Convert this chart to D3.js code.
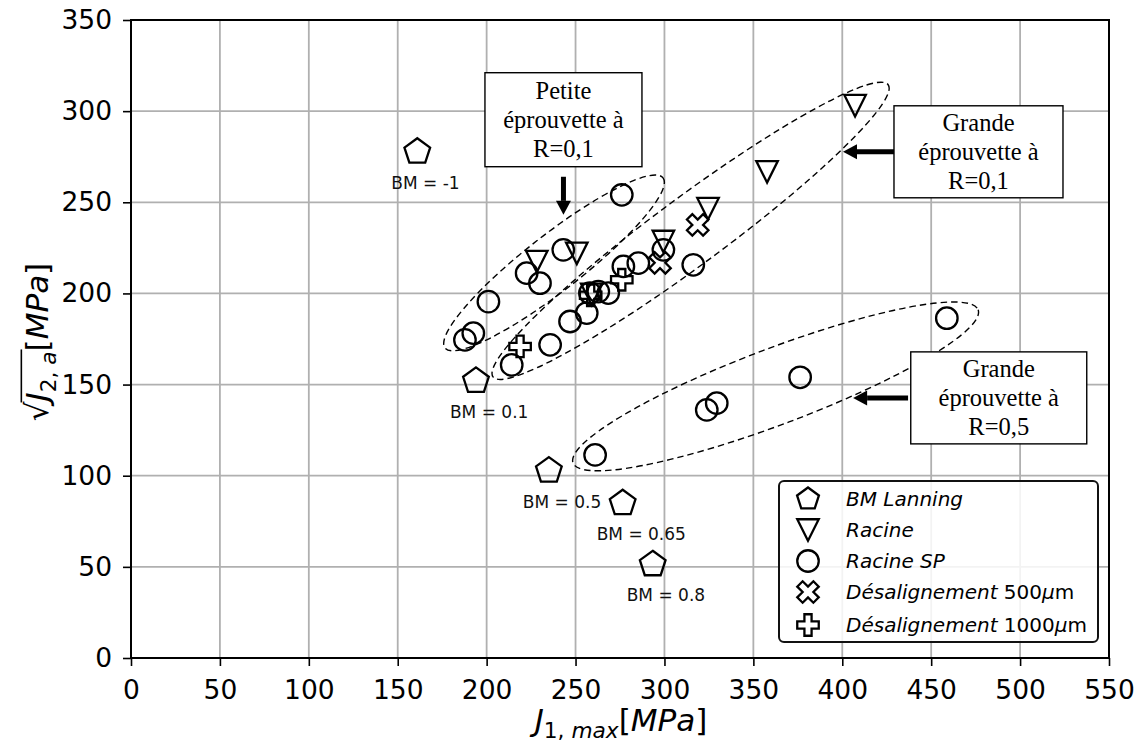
<!DOCTYPE html>
<html><head><meta charset="utf-8">
<script src="https://cdn.jsdelivr.net/npm/d3@7"></script>
<style>body{margin:0;background:#fff;} svg{display:block;}</style>
</head><body>
<svg id="c" width="1143" height="744"></svg>
<script>
// ---------- data ----------
const xTicks = [0,50,100,150,200,250,300,350,400,450,500,550];
const yTicks = [0,50,100,150,200,250,300,350];

const bmX = [161, 194, 235, 276.5, 293.4];
const bmY = [277.7, 152, 102.8, 84.9, 51.4];
const bmLabels = ["BM = -1","BM = 0.1","BM = 0.5","BM = 0.65","BM = 0.8"];

const racineX = [228.2, 250.7, 259.1, 299.4, 324.5, 357.7, 407.2];
const racineY = [217.5, 222.0, 199.5, 228.5, 246.5, 266.7, 303.0];

const racineSPX = [276, 243.1, 222.5, 230, 201, 187.8, 192.5, 214.1, 235.7, 246.9, 256.3, 258.1, 262.8, 268.4, 276.9, 285.3, 299.4, 316.2, 261, 323.8, 329.4, 376.3, 458.8];
const racineSPY = [254.1, 223.9, 211.1, 205.6, 195.5, 174.5, 178.2, 160.8, 171.8, 184.6, 189.2, 200.2, 201, 200.2, 214.8, 216.6, 223.9, 215.7, 111.4, 136.1, 139.8, 154, 186.4];

const des500X = [318.7, 297.5];
const des500Y = [237.6, 216.8];

const des1000X = [218.8, 276, 258.5];
const des1000Y = [170.9, 207.5, 199];

const legendLabels = ["BM Lanning","Racine","Racine SP","Désalignement 500μm","Désalignement 1000μm"];

// ellipse groups: endpoints of major axis (data coords)
const ellipseX1 = [176.6, 203.6, 248.6];
const ellipseY1 = [170.1, 154.2, 107.0];
const ellipseX2 = [299.2, 425.8, 476.4];
const ellipseY2 = [263.4, 314.5, 191.0];

// annotation boxes
const boxLines = [["Petite","éprouvette à","R=0,1"],["Grande","éprouvette à","R=0,1"],["Grande","éprouvette à","R=0,5"]];
const boxCX = [243.2, 476.6, 488.0];
const boxCY = [295.3, 277.7, 142.7];
const arrowFromX = [243.2, 429.1, 437.0];
const arrowFromY = [264.0, 277.7, 142.7];
const arrowToX = [243.2, 400.4, 406.1];
const arrowToY = [243.1, 277.7, 142.7];

// ---------- setup ----------
const svg = d3.select("#c");
const P = {l:131, r:1109, t:20, b:658};
const x = d3.scaleLinear().domain([0,550]).range([P.l,P.r]);
const y = d3.scaleLinear().domain([0,350]).range([P.b,P.t]);
const SANS = "DejaVu Sans, sans-serif";
const SERIF = "Liberation Serif, Times New Roman, serif";

// grid
const g = svg.append("g");
g.selectAll(".gx").data(xTicks).join("line")
  .attr("x1",d=>x(d)).attr("x2",d=>x(d)).attr("y1",P.t).attr("y2",P.b)
  .attr("stroke","#b0b0b0").attr("stroke-width",1.8);
g.selectAll(".gy").data(yTicks).join("line")
  .attr("y1",d=>y(d)).attr("y2",d=>y(d)).attr("x1",P.l).attr("x2",P.r)
  .attr("stroke","#b0b0b0").attr("stroke-width",1.8);

// axes
const ax = svg.append("g").attr("transform",`translate(0,${P.b})`)
  .call(d3.axisBottom(x).tickValues(xTicks).tickSize(8).tickPadding(14).tickFormat(d3.format("d")));
const ay = svg.append("g").attr("transform",`translate(${P.l},0)`)
  .call(d3.axisLeft(y).tickValues(yTicks).tickSize(8).tickPadding(11).tickFormat(d3.format("d")));
[ax,ay].forEach(a=>{
  a.select(".domain").remove();
  a.selectAll("line").attr("stroke","#000").attr("stroke-width",1.6);
  a.selectAll("text").attr("font-family",SANS).attr("font-size",26.5).attr("fill","#000");
});

// ellipses
const ell = svg.append("g");
ellipseX1.forEach((_,i)=>{
  const ax1=x(ellipseX1[i]), ay1=y(ellipseY1[i]), ax2=x(ellipseX2[i]), ay2=y(ellipseY2[i]);
  const cx=(ax1+ax2)/2, cy=(ay1+ay2)/2;
  const a=Math.hypot(ax2-ax1, ay2-ay1)/2;
  const ang=Math.atan2(ay2-ay1, ax2-ax1)*180/Math.PI;
  const b=[28,34,38][i];
  ell.append("ellipse").attr("cx",0).attr("cy",0).attr("rx",a).attr("ry",b)
    .attr("transform",`translate(${cx},${cy}) rotate(${ang})`)
    .attr("fill","none").attr("stroke","#000").attr("stroke-width",1.4)
    .attr("stroke-dasharray","6.5,4");
});

// marker paths
function pentagon(R){
  const pts=d3.range(5).map(k=>{const t=-Math.PI/2+k*2*Math.PI/5;return [R*Math.cos(t),R*Math.sin(t)];});
  return "M"+pts.map(p=>p.join(",")).join("L")+"Z";
}
function triDown(h){ return `M0,${h}L${-h},${-h}L${h},${-h}Z`; }
function circle(r){ return `M${r},0A${r},${r} 0 1,1 ${-r},0A${r},${r} 0 1,1 ${r},0Z`; }
function plus(e){
  const a=e/3;
  const v=[[-a,-e],[a,-e],[a,-a],[e,-a],[e,a],[a,a],[a,e],[-a,e],[-a,a],[-e,a],[-e,-a],[-a,-a]];
  return "M"+v.map(p=>p.join(",")).join("L")+"Z";
}
function xshape(e){
  const a=e/3, c=Math.SQRT1_2;
  const v=[[-a,-e],[a,-e],[a,-a],[e,-a],[e,a],[a,a],[a,e],[-a,e],[-a,a],[-e,a],[-e,-a],[-a,-a]]
    .map(([px,py])=>[(px-py)*c,(px+py)*c]);
  return "M"+v.map(p=>p.join(",")).join("L")+"Z";
}
const S = 21.5;
const markerDefs = [
  {path:pentagon(13.5), legendPath:pentagon(11.5), xs:bmX, ys:bmY},
  {path:triDown(S/2), legendPath:triDown(S/2), xs:racineX, ys:racineY},
  {path:circle(S/2), legendPath:circle(S/2), xs:racineSPX, ys:racineSPY},
  {path:xshape(S*0.53), legendPath:xshape(S*0.53), xs:des500X, ys:des500Y},
  {path:plus(S/2), legendPath:plus(S/2), xs:des1000X, ys:des1000Y}
];
const mk = svg.append("g");
markerDefs.forEach(m=>{
  mk.append("g").selectAll("path").data(m.xs.map((v,i)=>[v,m.ys[i]])).join("path")
    .attr("d",m.path).attr("transform",d=>`translate(${x(d[0])},${y(d[1])})`)
    .attr("fill","none").attr("stroke","#000").attr("stroke-width",2.3).attr("stroke-linejoin","miter");
});

// BM labels
svg.append("g").selectAll("text").data(bmLabels).join("text")
  .attr("x",(d,i)=>x(bmX[i])-26).attr("y",(d,i)=>y(bmY[i])+37)
  .attr("font-family",SANS).attr("font-size",17).attr("fill","#111").text(d=>d);

// spines
svg.append("rect").attr("x",P.l).attr("y",P.t).attr("width",P.r-P.l).attr("height",P.b-P.t)
  .attr("fill","none").attr("stroke","#000").attr("stroke-width",2);

// annotation boxes & arrows
const bw=[157,169,176], bh=[94,92,92];
const ann = svg.append("g");
boxLines.forEach((lines,i)=>{
  const cx=x(boxCX[i]), cy=y(boxCY[i]);
  ann.append("rect").attr("x",cx-bw[i]/2).attr("y",cy-bh[i]/2).attr("width",bw[i]).attr("height",bh[i])
    .attr("fill","#fff").attr("stroke","#000").attr("stroke-width",1.4);
  lines.forEach((t,k)=>{
    ann.append("text").attr("x",cx).attr("y",cy+(k-1)*29+8).attr("text-anchor","middle")
      .attr("font-family",SERIF).attr("font-size",24.5).attr("fill","#000").text(t);
  });
  const x1=x(arrowFromX[i]), y1=y(arrowFromY[i]), x2=x(arrowToX[i]), y2=y(arrowToY[i]);
  const ang=Math.atan2(y2-y1,x2-x1), hl=14, hw=7.5;
  const bx=x2-hl*Math.cos(ang), by=y2-hl*Math.sin(ang);
  ann.append("line").attr("x1",x1).attr("y1",y1).attr("x2",bx).attr("y2",by)
    .attr("stroke","#000").attr("stroke-width",5);
  const nx=-Math.sin(ang), ny=Math.cos(ang);
  ann.append("path").attr("d",`M${x2},${y2}L${bx+nx*hw},${by+ny*hw}L${bx-nx*hw},${by-ny*hw}Z`).attr("fill","#000");
});

// legend
const L = {x:779, y:481, w:319, h:161};
const lg = svg.append("g");
lg.append("rect").attr("x",L.x).attr("y",L.y).attr("width",L.w).attr("height",L.h).attr("rx",5)
  .attr("fill","#fff").attr("fill-opacity",0.85).attr("stroke","#111").attr("stroke-width",2);
const rowY=[499,530,561,592,625];
markerDefs.forEach((m,i)=>{
  lg.append("path").attr("d",m.legendPath).attr("transform",`translate(808,${rowY[i]})`)
    .attr("fill","none").attr("stroke","#000").attr("stroke-width",2.3);
  const t=lg.append("text").attr("x",846).attr("y",rowY[i]+7).attr("font-family",SANS)
    .attr("font-size",20).attr("fill","#000");
  const lab=legendLabels[i];
  const mm=lab.match(/^(.*?)\s(\d+)μm$/);
  if(mm){
    t.append("tspan").attr("font-style","italic").text(mm[1]+" ");
    t.append("tspan").text(mm[2]);
    t.append("tspan").attr("font-style","italic").text("μ");
    t.append("tspan").text("m");
  } else {
    t.append("tspan").attr("font-style","italic").text(lab);
  }
});

// x label
const FS=31;
const xl = svg.append("text").attr("x",621).attr("y",731).attr("text-anchor","middle")
  .attr("font-family",SANS).attr("font-size",FS).attr("fill","#000");
xl.append("tspan").attr("font-style","italic").text("J");
xl.append("tspan").attr("font-size",FS*0.7).attr("dy",7).text("1, ");
xl.append("tspan").attr("font-size",FS*0.7).attr("font-style","italic").text("max");
xl.append("tspan").attr("dy",-7).text("[");
xl.append("tspan").attr("font-style","italic").text("MPa");
xl.append("tspan").text("]");

// y label
const yg = svg.append("g").attr("transform","translate(48,342) rotate(-90)");
const yl = yg.append("text").attr("x",0).attr("y",0).attr("text-anchor","middle")
  .attr("font-family",SANS).attr("font-size",FS).attr("fill","#000");
yl.append("tspan").text("√");
yl.append("tspan").attr("font-style","italic").text("J");
yl.append("tspan").attr("font-size",FS*0.7).attr("dy",8).text("2, ");
yl.append("tspan").attr("font-size",FS*0.7).attr("font-style","italic").text("a");
yl.append("tspan").attr("dy",-8).text("[");
yl.append("tspan").attr("font-style","italic").text("MPa");
yl.append("tspan").text("]");
const node = yl.node();
const sx = node.getEndPositionOfChar(0).x - 1;
const ex = node.getEndPositionOfChar(5).x + 2;
yg.append("line").attr("x1",sx).attr("x2",ex).attr("y1",-FS*0.86).attr("y2",-FS*0.86)
  .attr("stroke","#000").attr("stroke-width",1.6);
</script>
</body></html>
